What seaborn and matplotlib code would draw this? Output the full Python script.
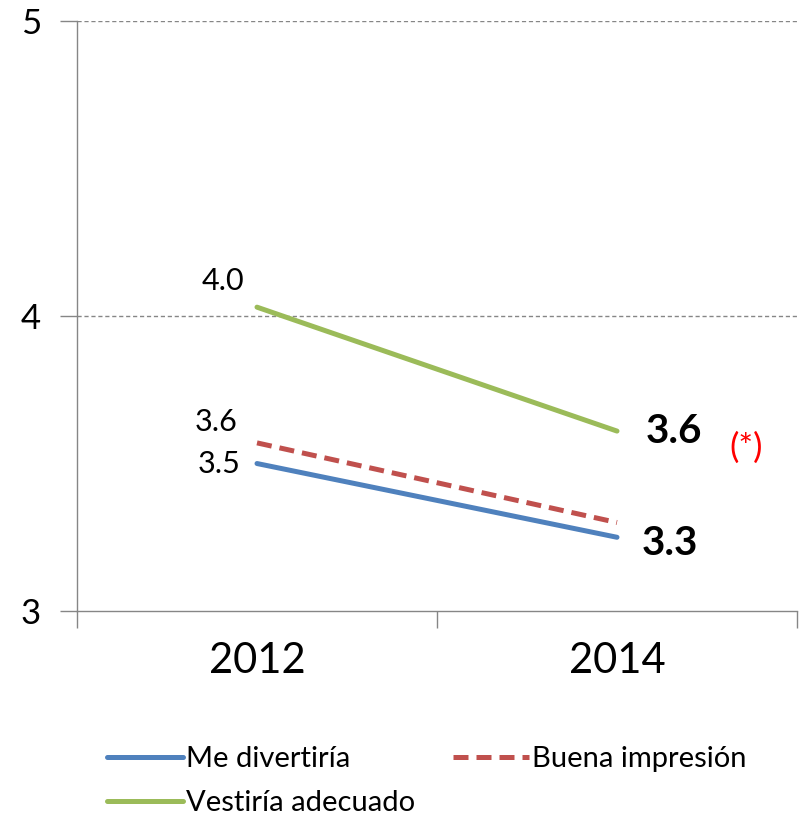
import pandas as pd
import matplotlib.pyplot as plt
import seaborn as sns
from matplotlib.lines import Line2D

years = ['2012', '2014']
me_divertiria = [3.50, 3.25]
buena_impresion = [3.57, 3.30]
vestiria_adecuado = [4.03, 3.61]
series_names = ['Me divertiría', 'Buena impresión', 'Vestiría adecuado']
colors = {'Me divertiría': '#4F81BD', 'Buena impresión': '#C0504D', 'Vestiría adecuado': '#9BBB59'}

df = pd.DataFrame({
    'year': years * 3,
    'value': me_divertiria + buena_impresion + vestiria_adecuado,
    'serie': [n for n in series_names for _ in years],
})

sns.set_style('white')
plt.rcParams['font.family'] = ['Lato', 'DejaVu Sans']
plt.rcParams['text.color'] = 'black'
plt.rcParams['xtick.color'] = 'black'
plt.rcParams['ytick.color'] = 'black'

fig = plt.figure(figsize=(8, 8.17), dpi=100)
ax = fig.add_axes([0.09625, 0.2521, 0.9, 0.7222])

sns.lineplot(data=df, x='year', y='value', hue='serie', style='serie',
             palette=colors, dashes={'Me divertiría': '', 'Buena impresión': (3, 1.6), 'Vestiría adecuado': ''},
             linewidth=3.6, ax=ax, legend=False, sort=False)
for l in ax.lines:
    l.set_solid_capstyle('round')
    l.set_dash_capstyle('butt')

ax.set_xlim(-0.5, 1.5)
ax.set_ylim(3, 5)
ax.set_yticks([3, 4, 5])
ax.set_xticks([-0.5, 0.5, 1.5], minor=False)
ax.set_xticklabels([])
ax.set_xticks([0, 1], minor=True)
ax.set_xticklabels(years, minor=True)
ax.tick_params(bottom=True, left=True)
ax.tick_params(axis='x', which='minor', length=0, labelsize=30, pad=22)
ax.tick_params(axis='x', which='major', length=12, color='#868686', width=1)
ax.tick_params(axis='y', length=12, color='#868686', width=1, labelsize=25, pad=14)
ax.set_xlabel('')
ax.set_ylabel('')

for y in [4, 5]:
    ax.axhline(y, color='#868686', linestyle=(0, (3, 2)), linewidth=1, zorder=0)

for s in ['top', 'right']:
    ax.spines[s].set_visible(False)
for s in ['left', 'bottom']:
    ax.spines[s].set_color('#868686')
    ax.spines[s].set_linewidth(1)

# data labels
ax.text(-0.035, 4.12, f'{vestiria_adecuado[0]:.1f}', fontsize=22, ha='right', va='center')
ax.text(-0.055, 3.64, f'{buena_impresion[0]:.1f}', fontsize=22, ha='right', va='center')
ax.text(-0.045, 3.50, f'{me_divertiria[0]:.1f}', fontsize=22, ha='right', va='center')
ax.text(1.08, 3.61, f'{vestiria_adecuado[1]:.1f}', fontsize=29, fontweight='bold', ha='left', va='center')
ax.text(1.36, 3.555, '(*)', fontsize=25, color='red', ha='center', va='center')
ax.text(1.07, 3.23, f'{buena_impresion[1]:.1f}', fontsize=29, fontweight='bold', ha='left', va='center')

handles = [Line2D([], [], color=colors['Me divertiría'], lw=3.6),
           Line2D([], [], color=colors['Vestiría adecuado'], lw=3.6),
           Line2D([], [], color=colors['Buena impresión'], lw=3.6, linestyle=(0, (3, 1.6)))]
labels = ['Me divertiría', 'Vestiría adecuado', 'Buena impresión']
fig.legend(handles, labels, loc='upper left', bbox_to_anchor=(0.134, 1 - 746 / 817), ncol=2,
           frameon=False, fontsize=21, handlelength=2.6, handletextpad=0.1,
           columnspacing=1.3, labelspacing=0.62, borderpad=0, borderaxespad=0)

fig.savefig('out.png', dpi=100)
